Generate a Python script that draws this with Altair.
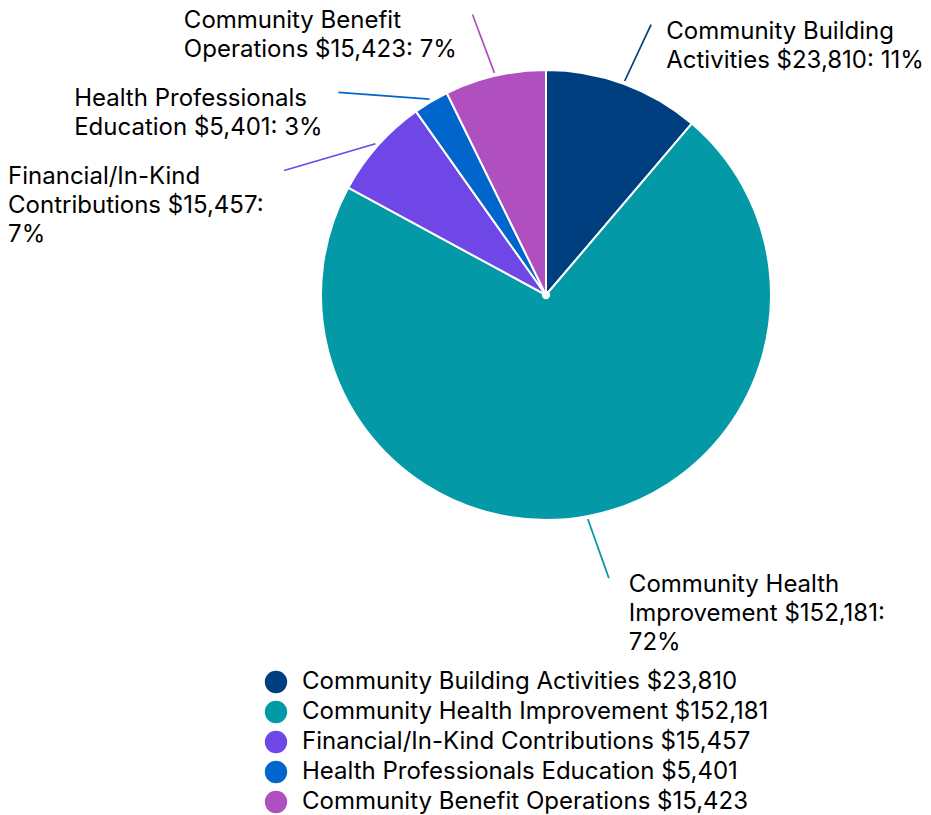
import math
import altair as alt
import pandas as pd

# ---------------- data ----------------
categories = [
    "Community Building Activities",
    "Community Health Improvement",
    "Financial/In-Kind Contributions",
    "Health Professionals Education",
    "Community Benefit Operations",
]
values = [23810, 152181, 15457, 5401, 15423]
label_lines = [
    ["Community Building", "Activities $23,810: 11%"],
    ["Community Health", "Improvement $152,181:", "72%"],
    ["Financial/In-Kind", "Contributions $15,457:", "7%"],
    ["Health Professionals", "Education $5,401: 3%"],
    ["Community Benefit", "Operations $15,423: 7%"],
]
colors = ["#003f7f", "#0399a6", "#7047e7", "#0066cc", "#b04fbf"]

# ---------------- layout / style ----------------
W, H = 915, 807
CX, CY = 538, 287          # pie centre inside the chart
R = 225                    # pie radius
START_R = 228              # leader line start radius
LINE_RY = 288              # label connector radius (vertical)
LINE_RX = 290              # label connector radius (horizontal)
GAP_Y = 78                 # minimum vertical spacing of labels on one side
FONT = "Inter"
FS = 24

# rough Inter advance widths (em) to left-align left-side label boxes
CW = {' ': 0.28, 'a': 0.553, 'b': 0.617, 'c': 0.559, 'd': 0.617, 'e': 0.578, 'f': 0.349,
      'g': 0.617, 'h': 0.601, 'i': 0.232, 'j': 0.232, 'k': 0.531, 'l': 0.232, 'm': 0.888,
      'n': 0.601, 'o': 0.597, 'p': 0.617, 'q': 0.617, 'r': 0.377, 's': 0.519, 't': 0.356,
      'u': 0.601, 'v': 0.549, 'w': 0.8, 'x': 0.53, 'y': 0.549, 'z': 0.528,
      'A': 0.68, 'B': 0.646, 'C': 0.722, 'E': 0.612, 'F': 0.588, 'H': 0.736, 'I': 0.261,
      'K': 0.663, 'O': 0.773, 'P': 0.645,
      '$': 0.62, '0': 0.63, '1': 0.43, '2': 0.61, '3': 0.62, '4': 0.64, '5': 0.62,
      '6': 0.62, '7': 0.56, '8': 0.62, '9': 0.62, ',': 0.24, ':': 0.25, '%': 0.84,
      '/': 0.37, '-': 0.44}


def text_width(s):
    return sum(CW.get(ch, 0.6) for ch in s) * FS


total = sum(values)
legend_labels = [f"{c} ${v:,}" for c, v in zip(categories, values)]

rows = []
cum = 0.0
for i, (c, v) in enumerate(zip(categories, values)):
    a0 = cum / total * 2 * math.pi
    cum += v
    a1 = cum / total * 2 * math.pi
    mid = (a0 + a1) / 2
    rows.append(dict(idx=i, category=c, value=v, legend=legend_labels[i], color=colors[i],
                     mid=mid, side=1 if math.sin(mid) >= 0 else -1,
                     label="\n".join(label_lines[i]),
                     width=max(text_width(s) for s in label_lines[i])))

# distribute label connector heights per side (up-positive y)
for side in (1, -1):
    items = sorted([r for r in rows if r["side"] == side], key=lambda r: -math.cos(r["mid"]))
    prev = None
    for r in items:
        y = LINE_RY * math.cos(r["mid"])
        if prev is not None and y > prev - GAP_Y:
            y = prev - GAP_Y
        r["ye"] = y
        prev = y

for r in rows:
    r["xs"] = START_R * math.sin(r["mid"])
    r["ys"] = START_R * math.cos(r["mid"])
    r["xe"] = r["side"] * math.sqrt(max(LINE_RX ** 2 - r["ye"] ** 2, 0))
    if r["side"] == 1:
        # keep the label inside the chart's right edge
        r["xt"] = min(r["xe"] + 20, (W - CX) - r["width"] - 3)
    else:
        r["xt"] = r["xe"] - 20 - r["width"]

df = pd.DataFrame(rows)

xscale = alt.Scale(domain=[-CX, W - CX])
yscale = alt.Scale(domain=[-(H - CY), CY])

base = alt.Chart(df)

pie = base.mark_arc(outerRadius=R, stroke="white", strokeWidth=2, strokeJoin="round",
                    x=CX, y=CY).encode(
    theta=alt.Theta("value:Q", stack=True),
    order=alt.Order("idx:Q"),
    color=alt.Color(
        "legend:N",
        scale=alt.Scale(domain=legend_labels, range=colors),
        legend=alt.Legend(
            title=None, orient="none", legendX=256, legendY=662,
            symbolType="circle", symbolSize=500, symbolStrokeWidth=0,
            labelFont=FONT, labelFontSize=FS, labelColor="#000000",
            labelOffset=14, rowPadding=6, padding=0, labelLimit=600,
        ),
    ),
)

centre_dot = alt.Chart(pd.DataFrame({"v": [0]})).mark_point(
    filled=True, color="white", opacity=1, size=70, shape="circle"
).encode(
    x=alt.X(datum=0, scale=xscale, axis=None),
    y=alt.Y(datum=0, scale=yscale, axis=None),
)

rules = base.mark_rule(strokeWidth=1.7).encode(
    x=alt.X("xs:Q", scale=xscale, axis=None),
    y=alt.Y("ys:Q", scale=yscale, axis=None),
    x2="xe:Q",
    y2="ye:Q",
    color=alt.Color("color:N", scale=None),
)

labels = base.mark_text(font=FONT, fontSize=FS, align="left", baseline="alphabetic",
                        lineBreak="\n", lineHeight=29, dy=14, color="#000000").encode(
    x=alt.X("xt:Q", scale=xscale, axis=None),
    y=alt.Y("ye:Q", scale=yscale, axis=None),
    text="label:N",
)

chart = alt.layer(pie, centre_dot, rules, labels).properties(
    width=W, height=H, autosize="none", padding=0
).configure_view(stroke="transparent", strokeWidth=0).configure_axis(
    domain=False, ticks=False, labels=False, grid=False
).configure(
    background="white",
    style={"cell": {"stroke": "transparent", "strokeWidth": 0}},
)

chart.save("out.html", embed_options={"renderer": "svg", "actions": False})
